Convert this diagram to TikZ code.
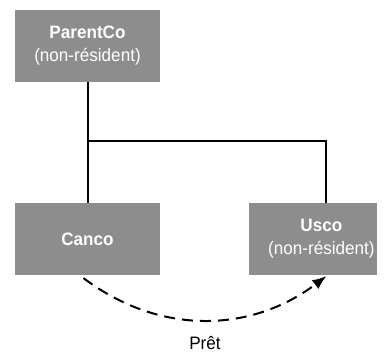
\documentclass[tikz,border=0pt]{standalone}
\usepackage{fontspec}
\setmainfont[FakeStretch=0.95]{Liberation Sans}
\usepackage{tikz}
\usetikzlibrary{shapes,arrows,arrows.meta}
\usetikzlibrary{positioning}
\definecolor{boxgray}{RGB}{141,141,141}
\tikzstyle{entity} = [rectangle, fill=boxgray, text=white, align=center,
    minimum width=145pt, minimum height=72pt, inner sep=0pt,
    font=\fontsize{18}{23}\selectfont]
\tikzstyle{entitytext} = [text=white, align=center, inner sep=0pt,
    font=\fontsize{18}{23}\selectfont]
\tikzstyle{line} = [draw, line width=2pt]
\tikzstyle{loan} = [draw, line width=2pt, dash pattern=on 11pt off 7pt,
    -{Latex[length=14pt,width=11pt]}]

\begin{document}
\begin{tikzpicture}[x=1pt, y=1pt, node distance = 2cm, auto]
    \useasboundingbox (0,0) rectangle (388,-354);
    % Place nodes
    \node [entity] (parent) at (87.5,-45.5) {\textbf{ParentCo}\\(non-résident)};
    \node [entity, below=121pt of parent] (canco) {\textbf{Canco}};
    \node [entity, minimum width=128pt, right=89pt of canco] (usco) {};
    \node [entitytext] (uscotext) at ([xshift=8pt]usco.center) {\textbf{Usco}\\(non-résident)};
    \coordinate (split) at ([yshift=-59pt]parent.south);
    \coordinate (uscoin) at ([xshift=13pt]usco.north);
    \coordinate (loanfrom) at ([xshift=-4pt,yshift=-3pt]canco.south);
    \coordinate (loanto) at ([xshift=13pt,yshift=-1pt]usco.south);

    % Draw edges
    \path [line] (parent) -- (canco);
    \path [line] (split) -| (uscoin);
    \path [loan] (loanfrom) to[out=-37, in=217]
        node [below=15pt, inner sep=0pt, text=black,
              font=\fontsize{18}{23}\selectfont] (pret) {Prêt} (loanto);
\end{tikzpicture}
\end{document}
